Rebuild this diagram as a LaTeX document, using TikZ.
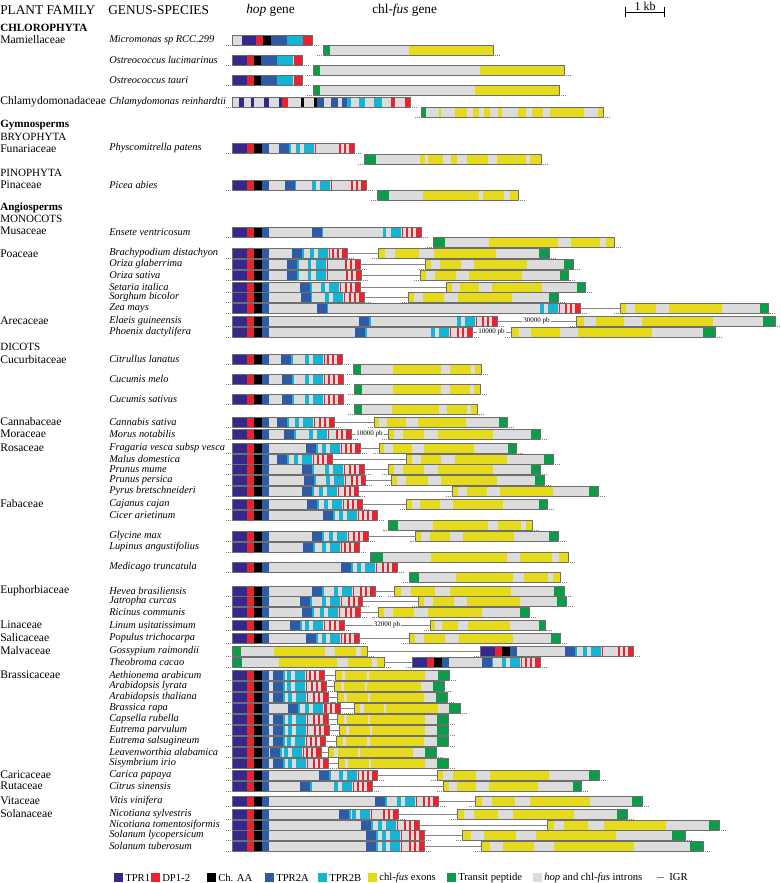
\documentclass[tikz,border=0pt]{standalone}
\usepackage{fontspec}
\setmainfont{Liberation Serif}
\definecolor{TprOne}{HTML}{33288C}
\definecolor{DpRed}{HTML}{E8232D}
\definecolor{TprTwoA}{HTML}{2D5BA6}
\definecolor{TprTwoB}{HTML}{14B4D4}
\definecolor{ExonYellow}{HTML}{E6DA1C}
\definecolor{TransitGreen}{HTML}{0C9B48}
\definecolor{IntronGray}{HTML}{DCDCDC}
\definecolor{BarEdge}{HTML}{6E6E6E}
\definecolor{IgrGray}{HTML}{858585}

% one coloured block of a gene bar: colour, y, x from, x to
\newcommand{\seg}[4]{\fill[#1] ({#3},{#2-5}) rectangle ({#4},{#2+5});}
% outline and flanking dots of a bar: y, x0, x1
\newcommand{\gout}[3]{%
  \draw[barline] (#2,{#1-5}) rectangle (#3,{#1+5});
  \draw[flank] ({#2-6},{#1+5}) -- (#2,{#1+5});
  \draw[flank] (#3,{#1+5}) -- ({#3+6},{#1+5});}
% hop gene: name, y, x0, TPR2A start, TPR2B start, x1
\newcommand{\hop}[6]{%
  \seg{IntronGray}{#2}{#3}{#6}
  \seg{TprOne}{#2}{#3}{#3+15}
  \seg{DpRed}{#2}{#3+15}{#3+22}
  \seg{black}{#2}{#3+22}{#3+30}
  \seg{TprTwoA}{#2}{#3+30}{#3+37}
  \seg{TprTwoA}{#2}{#4}{#4+10}
  \seg{TprTwoB}{#2}{#4+10}{#4+11.5}
  \seg{TprTwoB}{#2}{#5-8}{#5-4.5}
  \seg{TprTwoB}{#2}{#5}{#5+10}
  \seg{DpRed}{#2}{#5+11}{#5+12}
  \seg{DpRed}{#2}{#6-15}{#6-13}
  \seg{DpRed}{#2}{#6-10}{#6-8}
  \seg{DpRed}{#2}{#6-5}{#6}
  \gout{#2}{#3}{#6}
  \coordinate (#1-hw) at (#3,#2);
  \coordinate (#1-he) at (#6,#2);}
% chl-fus gene: name, y, x0, x1, exon fractions, transit peptide from, to
\newcommand{\chlpat}[7]{%
  \seg{IntronGray}{#2}{#3}{#4}
  \foreach \fa/\fb in {#5} {\seg{ExonYellow}{#2}{#3+\fa*(#4-#3)}{#3+\fb*(#4-#3)}}
  \seg{TransitGreen}{#2}{#3+#6*(#4-#3)}{#3+#7*(#4-#3)}
  \gout{#2}{#3}{#4}
  \coordinate (#1-cw) at (#3,#2);
  \coordinate (#1-ce) at (#4,#2);}
\newcommand{\chlR}[4]{\chlpat{#1}{#2}{#3}{#4}{0/0.04,0.1/0.24,0.33/0.69}{0.94}{1}}
\newcommand{\chlB}[4]{\chlpat{#1}{#2}{#3}{#4}{0/0.06,0.09/0.28,0.30/0.79}{0.9}{1}}
\newcommand{\chlL}[4]{\chlpat{#1}{#2}{#3}{#4}{0.31/0.69,0.76/0.92,0.955/1}{0}{0.065}}

\begin{document}
\begin{tikzpicture}[
    x=0.75pt, y=-0.75pt,
    barline/.style={draw=BarEdge, line width=0.6pt},
    flank/.style={draw=gray, densely dotted, line width=0.4pt},
    igr/.style={draw=IgrGray, line width=0.7pt},
    igrlab/.style={fill=white, inner sep=0.6pt, font=\fontsize{5.3}{6}\selectfont},
    hdr/.style={anchor=west, inner sep=0pt, font=\fontsize{10}{11}\selectfont},
    grp/.style={anchor=west, inner sep=0pt, font=\fontsize{8.3}{9}\selectfont\bfseries},
    sub/.style={anchor=west, inner sep=0pt, font=\fontsize{8.3}{9}\selectfont},
    fam/.style={anchor=west, inner sep=0pt, font=\fontsize{8.7}{9}\selectfont},
    spc/.style={anchor=west, inner sep=0pt, font=\fontsize{7.8}{8}\selectfont\itshape},
    leg/.style={anchor=west, inner sep=0pt, font=\fontsize{8}{9}\selectfont}
]
\useasboundingbox (0,0) rectangle (781,883);

% === Headers ===
\node[hdr] (hfam) at (0,10) {PLANT FAMILY};
\node[hdr] (hspc) at (108,10) {GENUS-SPECIES};
\node[hdr] (hhop) at (246,10) {\textit{hop} gene};
\node[hdr] (hchl) at (372,10) {chl-\textit{fus} gene};
\coordinate (kbL) at (625,12);
\coordinate (kbR) at (665,12);
\draw[line width=0.7pt, |-|] (kbL) -- (kbR);
\node[anchor=south, inner sep=0.5pt, font=\fontsize{9}{10}\selectfont] (kb) at (645,12) {1 kb};

% === Groups and families ===
\foreach \yy/\txt [count=\i] in {28/CHLOROPHYTA, 125/Gymnosperms, 208/Angiosperms}
  \node[grp] (grp\i) at (0,\yy) {\txt};
\foreach \yy/\txt [count=\i] in {137/BRYOPHYTA, 173/PINOPHYTA, 219/MONOCOTS, 347/DICOTS}
  \node[sub] (sub\i) at (0,\yy) {\txt};
\foreach \yy/\txt [count=\i] in {40/Mamiellaceae, 102/Chlamydomonadaceae, 149/Funariaceae,
    185/Pinaceae, 231/Musaceae, 254/Poaceae, 321/Arecaceae, 360/Cucurbitaceae,
    422/Cannabaceae, 434/Moraceae, 448/Rosaceae, 504/Fabaceae, 591/Euphorbiaceae,
    625/Linaceae, 638/Salicaceae, 651/Malvaceae, 675/Brassicaceae, 775/Caricaceae,
    786/Rutaceae, 801/Vitaceae, 814/Solanaceae}
  \node[fam] (fam\i) at (0,\yy) {\txt};

% === Species ===
\foreach \yy/\txt [count=\i] in {40/Micromonas sp RCC.299, 60/Ostreococcus lucimarinus,
    80/Ostreococcus tauri, 102/Chlamydomonas reinhardtii, 148/Physcomitrella patens,
    185/Picea abies, 232/Ensete ventricosum, 253/Brachypodium distachyon,
    264/Oriza glaberrima, 275/Oriza sativa, 287/Setaria italica, 297/Sorghum bicolor,
    308/Zea mays, 321/Elaeis guineensis, 332/Phoenix dactylifera, 359/Citrullus lanatus,
    379/Cucumis melo, 399/Cucumis sativus, 422/Cannabis sativa, 434/Morus notabilis,
    448/Fragaria vesca subsp vesca, 459/Malus domestica, 469/Prunus mume,
    480/Prunus persica, 491/Pyrus bretschneideri, 504/Cajanus cajan, 515/Cicer arietinum,
    536/Glycine max, 547/Lupinus angustifolius, 567/Medicago truncatula,
    591/Hevea brasiliensis, 601/Jatropha curcas, 612/Ricinus communis,
    625/Linum usitatissimum, 638/Populus trichocarpa, 651/Gossypium raimondii,
    662/Theobroma cacao, 675/Aethionema arabicum, 686/Arabidopsis lyrata,
    697/Arabidopsis thaliana, 708/Brassica rapa, 719/Capsella rubella,
    730/Eutrema parvulum, 741/Eutrema salsugineum, 752/Leavenworthia alabamica,
    763/Sisymbrium irio, 775/Carica papaya, 786/Citrus sinensis, 801/Vitis vinifera,
    814/Nicotiana sylvestris, 825/Nicotiana tomentosiformis, 835/Solanum lycopersicum,
    846/Solanum tuberosum}
  \node[spc] (sp\i) at (109,\yy) {\txt};

% === Chlorophyta ===
\seg{IntronGray}{40}{232}{312}
\foreach \c/\xa/\xb in {TprOne/242/256, DpRed/256/263, black/263/271, TprTwoA/271/287, TprTwoB/287/303, DpRed/303/312}
  {\seg{\c}{40}{\xa}{\xb}}
\gout{40}{232}{312}
\chlpat{mic}{50}{323}{493}{0.506/1}{0}{0.04}
\foreach \yy in {60,80} {
  \foreach \c/\xa/\xb in {TprOne/232/247, DpRed/247/254, black/254/261, TprTwoA/261/277, TprTwoB/277/293, IntronGray/293/294, DpRed/294/302}
    {\seg{\c}{\yy}{\xa}{\xb}}
  \gout{\yy}{232}{302}
}
\chlpat{oluc}{70}{313}{564}{0.665/1}{0}{0.028}
\chlpat{otau}{90}{313}{559}{0.659/1}{0}{0.028}
\seg{IntronGray}{102}{232}{410}
\foreach \c/\xa/\xb in {TprOne/238.5/244, TprOne/251/254, TprOne/264/269, TprOne/278.5/282,
    DpRed/282/288, black/301/304, black/314/317, TprTwoA/317/324, TprTwoA/331/338,
    TprTwoA/342/347, TprTwoB/347/351, TprTwoB/359/364.5, TprTwoB/374/381.5,
    DpRed/391/394.5, DpRed/405/410}
  {\seg{\c}{102}{\xa}{\xb}}
\gout{102}{232}{410}
\chlpat{chl}{112}{421}{603}{0.099/0.110, 0.187/0.253, 0.286/0.316, 0.345/0.377, 0.422/0.445,
    0.533/0.577, 0.610/0.668, 0.709/0.894, 0.971/1}{0}{0.03}

% === Gymnosperms ===
\hop{phy}{148}{232}{279}{304}{354}
\chlpat{phy}{159}{364}{541}{0.315/0.342, 0.364/0.446, 0.489/0.527, 0.580/0.699, 0.751/0.915, 0.938/1}{0}{0.068}
\hop{pic}{185}{232}{284.8}{320}{366}
\chlpat{pic}{195}{377}{518}{0.326/0.720, 0.749/0.899, 0.943/1}{0}{0.084}

% === Monocots ===
\hop{ens}{232}{232}{311.8}{390.7}{421}
\chlL{ens}{242}{433}{614}
\hop{bra}{253}{232}{292}{318}{347}     \chlR{bra}{253}{378}{549}
\hop{ogl}{264}{232}{287}{315.5}{360}   \chlR{ogl}{264}{425}{573}
\hop{osa}{275}{232}{287}{315.5}{361}   \chlR{osa}{275}{420}{568.5}
\hop{set}{287}{232}{300}{329}{360}     \chlR{set}{287}{446}{585}
\hop{sor}{297}{232}{300.7}{333}{364}   \chlR{sor}{297}{408}{558}
\hop{zea}{308}{232}{316.7}{548}{580}   \chlR{zea}{308}{620}{768.5}
\hop{ela}{321}{232}{359}{465}{497}     \chlR{ela}{321}{576}{775}
\hop{pho}{332}{232}{355}{439}{472}     \chlR{pho}{332}{511}{715}

% === Dicots ===
\hop{cit}{359}{232}{281}{313}{342}     \chlL{cit}{369}{353}{481}
\hop{cme}{379}{232}{282}{313}{343}     \chlL{cme}{389}{354}{480}
\hop{csa}{399}{232}{282}{313}{343}     \chlL{csa}{409}{354}{477}
\hop{can}{422}{232}{277}{303}{334}     \chlR{can}{422}{374}{507}
\hop{mor}{434}{232}{284}{317}{351}     \chlR{mor}{434}{388}{540}
\hop{fra}{448}{232}{306}{330}{360}     \chlR{fra}{448}{379}{516}
\hop{mal}{459}{232}{277}{302}{332}     \chlR{mal}{459}{406}{553}
\hop{pmu}{469}{232}{302}{333}{364}     \chlR{pmu}{469}{388}{540}
\hop{ppe}{480}{232}{304}{334}{365.5}   \chlR{ppe}{480}{391}{544}
\hop{pyr}{491}{232}{302}{327}{358.5}   \chlR{pyr}{491}{452}{598}
\hop{caj}{504}{232}{307}{332}{362}     \chlR{caj}{504}{406}{547}
\hop{cic}{515}{232}{323}{347}{377}     \chlL{cic}{525}{388.5}{532}
\hop{gly}{536}{232}{312}{337}{368}     \chlR{gly}{536}{415.5}{558}
\hop{lup}{547}{232}{303}{330}{359}     \chlL{lup}{557}{370}{568}
\hop{med}{567}{232}{341}{365}{397}     \chlL{med}{577}{409}{560}
\hop{hev}{591}{232}{312}{342}{375}     \chlR{hev}{591}{394}{564}
\hop{jat}{601}{232}{300}{330}{362.6}   \chlR{jat}{601}{418}{566}
\hop{ric}{612}{232}{302}{328}{360}     \chlR{ric}{612}{378}{529}
\hop{lin}{625}{232}{290}{313}{344}     \chlR{lin}{625}{430}{545.5}
\hop{pop}{638}{232}{306}{330}{359}     \chlR{pop}{638}{409}{560}
\chlL{gos}{651}{232}{367}              \hop{gos}{651}{480}{565}{591}{633}
\chlL{the}{662}{232}{384}              \hop{the}{662}{412}{481.5}{510}{540}
\hop{aet}{675}{232}{273}{295}{324}     \chlB{aet}{675}{335}{449}
\hop{aly}{686}{232}{273}{295}{326}     \chlB{aly}{686}{334}{444}
\hop{ath}{697}{232}{273}{296}{328}     \chlB{ath}{697}{337}{447}
\hop{brr}{708}{232}{288}{313}{340}     \chlB{brr}{708}{354}{460}
\hop{cap}{719}{232}{273}{296}{328}     \chlB{cap}{719}{337}{448}
\hop{epa}{730}{232}{273}{296}{329}     \chlB{epa}{730}{339}{448}
\hop{esa}{741}{232}{273}{295}{325}     \chlB{esa}{741}{336}{448}
\hop{lea}{752}{232}{270}{292}{321}     \chlB{lea}{752}{328}{436}
\hop{sis}{763}{232}{273}{296}{328}     \chlB{sis}{763}{338}{448}
\hop{car}{775}{232}{319}{347}{377}     \chlR{car}{775}{437}{599}
\hop{cis}{786}{232}{300}{342}{372}     \chlR{cis}{786}{443}{581}
\hop{vit}{801}{232}{375}{405}{438}     \chlR{vit}{801}{475}{642}
\hop{nsy}{814}{232}{339}{360}{398}     \chlR{nsy}{814}{457}{627}
\hop{nto}{825}{232}{361}{386}{419}     \chlR{nto}{825}{547}{719}
\hop{sly}{835}{232}{366}{390}{424}     \chlR{sly}{835}{462}{685}
\hop{stu}{846}{232}{366}{390}{424}     \chlR{stu}{846}{481}{703}

% === Intergenic regions ===
\foreach \g in {bra,ogl,osa,set,sor,zea,can,fra,mal,pmu,ppe,pyr,caj,gly,hev,jat,ric,pop,
    aet,aly,ath,brr,cap,epa,esa,lea,sis,car,cis,vit,nsy,nto,sly,stu}
  \draw[igr] (\g-he) -- (\g-cw);
\draw[igr] (ela-he) -- node[igrlab] (igrela) {30000 pb} (ela-cw);
\draw[igr] (pho-he) -- node[igrlab] (igrpho) {10000 pb} (pho-cw);
\draw[igr] (mor-he) -- node[igrlab] (igrmor) {10000 pb} (mor-cw);
\draw[igr] (lin-he) -- node[igrlab] (igrlin) {32000 pb} (lin-cw);
\draw[igr] (gos-ce) -- (gos-hw);
\draw[igr] (the-ce) -- (the-hw);

% === Legend ===
\foreach \xx/\c/\txt [count=\i] in {114/TprOne/{TPR1}, 151/DpRed/{DP1-2}, 207/black/{Ch. AA},
    265/TprTwoA/{TPR2A}, 318/TprTwoB/{TPR2B}, 368/ExonYellow/{chl-\textit{fus} exons},
    447/TransitGreen/{Transit peptide}, 533/IntronGray/{\textit{hop} and chl-\textit{fus} introns}}
  {\fill[\c] (\xx,873) rectangle ++(9,9);
   \node[leg] (leg\i) at (\xx+11,877.5) {\txt};}
\coordinate (igrA) at (657,877.5);
\coordinate (igrB) at (664,877.5);
\draw[igr] (igrA) -- (igrB);
\node[leg] (legigr) at (669,877.5) {IGR};
\end{tikzpicture}
\end{document}
